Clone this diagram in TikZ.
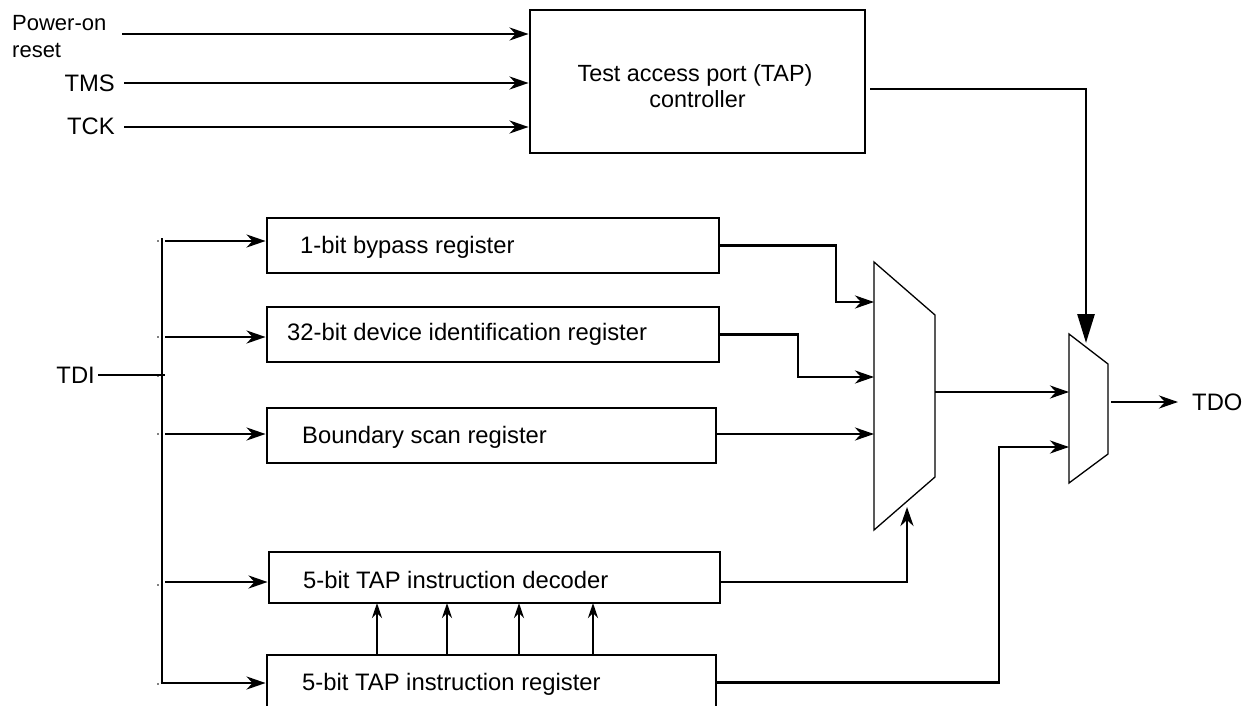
\documentclass[tikz,border=0pt]{standalone}
\usepackage{fontspec}
\setmainfont{Liberation Sans}
\usetikzlibrary{arrows.meta}
\tikzset{
  every node/.style={font=\fontsize{23.8}{32}\selectfont, inner sep=0pt},
  reg/.style={draw, line width=2.9pt, rectangle, minimum width=452pt, minimum height=55pt},
  txt/.style={anchor=base west},
  wire/.style={line width=2.8pt},
  arr/.style={wire, -{Stealth[length=19pt,width=13pt,inset=6pt]}},
  sarr/.style={wire, -{Stealth[length=15pt,width=10pt,inset=5pt]}},
  barr/.style={wire, -{Triangle[length=29pt,width=17pt]}},
  mux/.style={draw, line width=1.3pt, line join=miter},
  tiny/.style={fill=black, circle, minimum size=1.8pt, inner sep=0pt},
}
\begin{document}
\begin{tikzpicture}[x=1pt,y=-1pt]
\useasboundingbox (0,0) rectangle (1249,706);

% TAP controller
\node[draw, line width=2.9pt, minimum width=335pt, minimum height=143pt] (tap) at (697.5,81.5) {};
\node[anchor=base, font=\fontsize{23.4}{32}\selectfont] (tapt1) at (695,82) {Test access port (TAP)};
\node[anchor=base, font=\fontsize{23.4}{32}\selectfont] (tapt2) at (697.5,108) {controller};

% inputs
\node[anchor=north west, align=left, font=\fontsize{22}{27}\selectfont] (por) at (12,15) {Power-on\\reset};
\node[anchor=base east] (tms) at (115,92) {TMS};
\node[anchor=base east] (tck) at (115,135) {TCK};
\coordinate (porS) at (122,34);
\coordinate (tmsS) at (124,83);
\coordinate (tckS) at (124,127);
\draw[arr] (porS) -- (porS -| tap.west);
\draw[arr] (tmsS) -- (tmsS -| tap.west);
\draw[arr] (tckS) -- (tckS -| tap.west);

% registers
\node[reg] (byp) at (493,245.5) {};
\node[txt] (bypt) at (300,253) {1-bit bypass register};
\node[reg] (idr) at (493,334.5) {};
\node[txt] (idrt) at (287,340) {32-bit device identification register};
\node[reg, minimum width=449pt] (bnd) at (491.5,435.5) {};
\node[txt] (bndt) at (302,443) {Boundary scan register};
\node[reg, minimum width=451pt, minimum height=51pt] (dec) at (494.5,577.5) {};
\node[txt] (dect) at (303,588) {5-bit TAP instruction decoder};
\node[reg, minimum width=449pt] (ir) at (491.5,682.5) {};
\node[txt] (irt) at (302,690) {5-bit TAP instruction register};

% TDI bus
\node[anchor=base east] (tdi) at (95,383) {TDI};
\coordinate (busT) at (162,238);
\coordinate (busB) at (162,683);
\coordinate (tdiE) at (165,375);
\draw[wire] ([xshift=3pt]tdi.base east |- tdiE) -- (tdiE);
\draw[wire] (busT) -- (busB);
\draw[arr] ([xshift=-1.4pt]busB) -- (busB -| ir.west);
\draw[arr] (165,241) -- (165,241 -| byp.west);
\draw[arr] (165,337) -- (165,337 -| idr.west);
\draw[arr] (165,434) -- (165,434 -| bnd.west);
\draw[arr] (165,582) -- (165,582 -| dec.west);
\foreach \y in {241,337,376,434,585,684} \node[tiny] at (158,\y) {};

% decoder <- instruction register
\foreach \x in {377,447,519,593} \draw[sarr] (\x,655) -- (\x,603);

% multiplexers
\coordinate (m1a) at (874,262);
\coordinate (m1b) at (935,315);
\coordinate (m1c) at (935,477);
\coordinate (m1d) at (874,530);
\draw[mux] (m1a) -- (m1b) -- (m1c) -- (m1d) -- cycle;
\coordinate (m2a) at (1069,334);
\coordinate (m2b) at (1108,364);
\coordinate (m2c) at (1108,454);
\coordinate (m2d) at (1069,483);
\draw[mux] (m2a) -- (m2b) -- (m2c) -- (m2d) -- cycle;

% register outputs to mux1
\draw[arr] (byp.east) -- (836,245.5) |- (874,302);
\draw[arr] (idr.east) -- (798,334.5) |- (874,377);
\draw[arr] (bnd.east |- 0,434) -- (874,434);
\draw[arr] (dec.east |- 0,582) -| (907,507);

% mux1 -> mux2
\draw[arr] (935,392) -- (1069,392);
\draw[arr] (ir.east) -| (999,447) -- (1069,447);

% TAP -> mux2 select
\draw[barr] ([xshift=4pt,yshift=-7.5pt]tap.east) -| (1086,343);

% output
\node[anchor=base west] (tdo) at (1192,410) {TDO};
\draw[arr] (1111,402) -- (1178,402);
\end{tikzpicture}
\end{document}
